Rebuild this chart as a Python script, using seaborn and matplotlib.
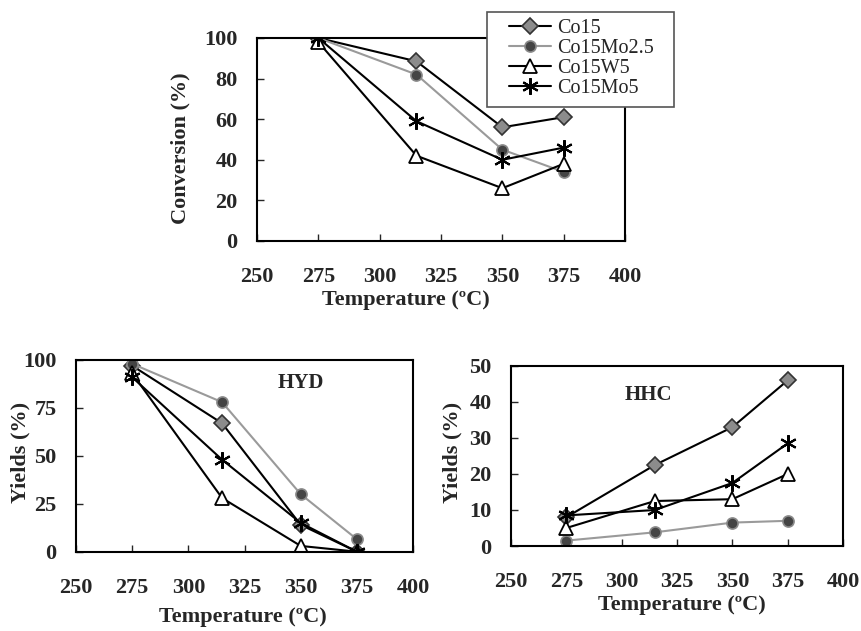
import numpy as np
import pandas as pd
import seaborn as sns
import matplotlib.pyplot as plt
from matplotlib.patches import Rectangle
from matplotlib.ticker import MultipleLocator

# data
temps = [275, 315, 350, 375]
series = ["Co15", "Co15Mo2.5", "Co15W5", "Co15Mo5"]

conv_co15 = [100, 88.5, 56, 61]
conv_mo25 = [100, 82, 45, 34]
conv_w5 = [98, 42, 26, 38]
conv_mo5 = [100, 59, 40, 46]

hyd_co15 = [97, 67, 14, 0]
hyd_mo25 = [98, 78, 30, 6.5]
hyd_w5 = [93, 28, 3, 0]
hyd_mo5 = [91, 48, 15, 0]

hhc_co15 = [8, 22.5, 33, 46]
hhc_mo25 = [1.5, 3.8, 6.5, 7]
hhc_w5 = [5, 12.5, 13, 20]
hhc_mo5 = [8.5, 10, 17.5, 28.5]

x_ticks = [250, 275, 300, 325, 350, 375, 400]


def to_long(values):
    rows = []
    for name, vals in zip(series, values):
        for t, v in zip(temps, vals):
            rows.append({"series": name, "temp": t, "val": v})
    return pd.DataFrame(rows)


conv = to_long([conv_co15, conv_mo25, conv_w5, conv_mo5])
hyd = to_long([hyd_co15, hyd_mo25, hyd_w5, hyd_mo5])
hhc = to_long([hhc_co15, hhc_mo25, hhc_w5, hhc_mo5])

styles = {
    "Co15": dict(color="black", marker="D", markersize=8, markerfacecolor="#8c8c8c",
                 markeredgecolor="#333333", markeredgewidth=1.2),
    "Co15Mo2.5": dict(color="#9a9a9a", marker="o", markersize=8, markerfacecolor="#444444",
                      markeredgecolor="#8a8a8a", markeredgewidth=1.2),
    "Co15W5": dict(color="black", marker="^", markersize=10, markerfacecolor="white",
                   markeredgecolor="black", markeredgewidth=1.3),
    "Co15Mo5": dict(color="black", marker=(6, 2, 0), markersize=12, markerfacecolor="black",
                    markeredgecolor="black", markeredgewidth=1.5),
}

sns.set_style("white")
plt.rcParams["font.family"] = ["Liberation Serif", "DejaVu Serif"]

fig = plt.figure(figsize=(8.61, 6.31), dpi=100)
ax_top = fig.add_axes([0.2985, 0.6181, 0.4274, 0.3217])
ax_hyd = fig.add_axes([0.0883, 0.1257, 0.3914, 0.3038])
ax_hhc = fig.add_axes([0.5935, 0.1347, 0.3856, 0.2853])


def draw(ax, df, ymax, ystep):
    for name in series:
        sub = df[df["series"] == name]
        sns.lineplot(data=sub, x="temp", y="val", ax=ax, linewidth=1.5,
                     label=name, legend=False, **styles[name])
    ax.set_xlim(250, 400)
    ax.set_ylim(0, ymax)
    ax.set_xticks(x_ticks)
    ax.yaxis.set_major_locator(MultipleLocator(ystep))
    ax.set_xlabel("")
    ax.set_ylabel("")
    for s in ax.spines.values():
        s.set_visible(True)
        s.set_color("black")
        s.set_linewidth(1.5)
    ax.tick_params(axis="x", direction="in", length=5, width=1, pad=19,
                   labelsize=16, bottom=True)
    ax.tick_params(axis="y", direction="in", length=5, width=1, pad=14,
                   labelsize=16, left=True)
    for lab in ax.get_xticklabels() + ax.get_yticklabels():
        lab.set_fontweight("bold")


draw(ax_top, conv, 100, 20)
draw(ax_hyd, hyd, 100, 25)
draw(ax_hhc, hhc, 50, 10)

ax_hyd.text(350, 88, "HYD", fontsize=15, fontweight="bold", ha="center", va="center")
ax_hhc.text(312, 42, "HHC", fontsize=15, fontweight="bold", ha="center", va="center")

fig.text(180 / 861, 1 - 148 / 631, "Conversion (%)", rotation=90, fontsize=16,
         fontweight="bold", ha="center", va="center")
fig.text(406 / 861, 1 - 300 / 631, "Temperature (ºC)", fontsize=16,
         fontweight="bold", ha="center", va="center")
fig.text(20 / 861, 1 - 452 / 631, "Yields (%)", rotation=90, fontsize=16,
         fontweight="bold", ha="center", va="center")
fig.text(243 / 861, 1 - 617 / 631, "Temperature (ºC)", fontsize=16,
         fontweight="bold", ha="center", va="center")
fig.text(452 / 861, 1 - 452 / 631, "Yields (%)", rotation=90, fontsize=16,
         fontweight="bold", ha="center", va="center")
fig.text(682 / 861, 1 - 605 / 631, "Temperature (ºC)", fontsize=16,
         fontweight="bold", ha="center", va="center")

# legend frame drawn separately so the padding can differ per side
frame = Rectangle((487 / 861, 1 - 107 / 631), 187 / 861, 95 / 631,
                  transform=fig.transFigure, facecolor="white", edgecolor="#555555",
                  linewidth=1.2, zorder=4)
fig.patches.append(frame)

handles, labels = ax_top.get_legend_handles_labels()
leg = fig.legend(handles, labels, loc="upper left",
                 bbox_to_anchor=(509 / 861, 1 - 19 / 631),
                 frameon=False, fontsize=14.5, handlelength=2.1, handletextpad=0.3,
                 labelspacing=0.05, borderpad=0, borderaxespad=0)
leg.set_zorder(5)

plt.savefig("out.png", dpi=100)
